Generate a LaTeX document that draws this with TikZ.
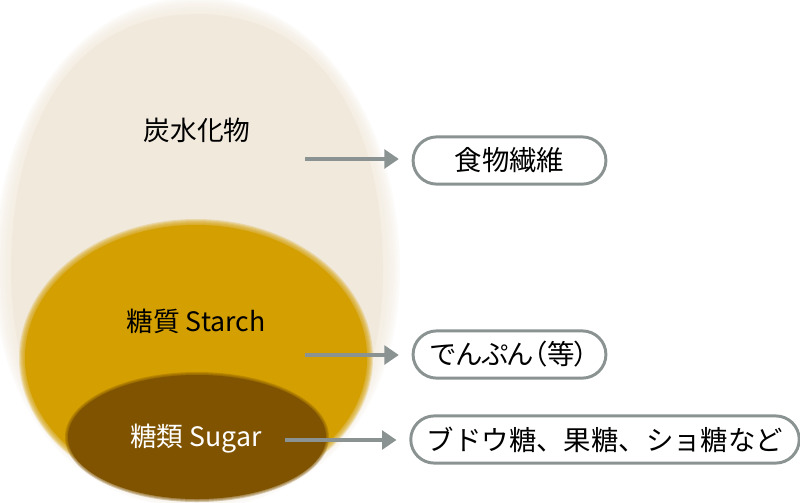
\documentclass[tikz,border=0pt]{standalone}
\usepackage{fontspec}
\setmainfont{Noto Sans CJK JP}
\newfontfamily\paltfont[RawFeature=+palt]{Noto Sans CJK JP}
\usetikzlibrary{arrows.meta}

\definecolor{eggbg}{HTML}{F1E9DC}
\definecolor{starchgold}{HTML}{D49F00}
\definecolor{sugarbrown}{HTML}{7F5300}
\definecolor{linegray}{HTML}{8B9292}

% egg outline, #1 = offset outwards (px)
\newcommand{\eggoutline}[1]{(197,{5-(#1)}) .. controls (72,{5-(#1)}) and ({2-(#1)},125) .. ({2-(#1)},270) .. controls ({2-(#1)},412) and (78,{500+(#1)}) .. (197,{500+(#1)}) .. controls (316,{500+(#1)}) and ({392+(#1)},412) .. ({392+(#1)},270) .. controls ({392+(#1)},125) and (322,{5-(#1)}) .. cycle}

\begin{document}
\begin{tikzpicture}[x=0.025cm,y=-0.025cm,
    egglabel/.style={font=\fontsize{19}{22}\selectfont,text=black},
    capsule/.style={draw=linegray,line width=2.1pt,fill=white,rounded corners=0.59cm,
                    minimum height=1.18cm,inner xsep=0.4cm,font=\fontsize{19.5}{22}\selectfont},
    pointer/.style={draw=linegray,line width=2.2pt,-{Triangle[length=0.36cm,width=0.47cm]},
                    shorten >=0.32cm}]
\useasboundingbox (0,0) rectangle (800,502);

% soft layers
\fill[eggbg] \eggoutline{-9};
\foreach \d in {-8,-6,...,8}
  \fill[eggbg,opacity=0.16] \eggoutline{\d};
\fill[starchgold] (196,358) ellipse [x radius=171,y radius=133];
\foreach \d in {1,...,7}
  \fill[starchgold,opacity=0.22] (196,358) ellipse [x radius=170+\d,y radius=132+\d];
\fill[sugarbrown] (197,437) ellipse [x radius=129,y radius=62];
\foreach \d in {1,...,4}
  \fill[sugarbrown,opacity=0.3] (197,437) ellipse [x radius=128+\d,y radius=61+\d];

% labels
\node[egglabel] (carb) at (197,130) {炭水化物};
\node[egglabel] (starch) at (196,321) {糖質 Starch};
\node[egglabel,text=white] (sugar) at (196,439) {糖類 Sugar};

% boxes
\node[capsule,minimum width=4.82cm] (fiber) at (509.5,160.5) {食物繊維};
\node[capsule,minimum width=4.82cm] (starchbox) at (509.5,354.5) {\paltfont でんぷん（等）};
\node[capsule,minimum width=9.6cm] (sugarbox) at (605,439.5) {ブドウ糖、果糖、ショ糖など};

% pointers
\coordinate (p1) at (305,159);
\coordinate (p2) at (305,355);
\coordinate (p3) at (285,440);
\draw[pointer] (p1) -- (p1 -| fiber.west);
\draw[pointer] (p2) -- (p2 -| starchbox.west);
\draw[pointer] (p3) -- (p3 -| sugarbox.west);
\end{tikzpicture}
\end{document}
